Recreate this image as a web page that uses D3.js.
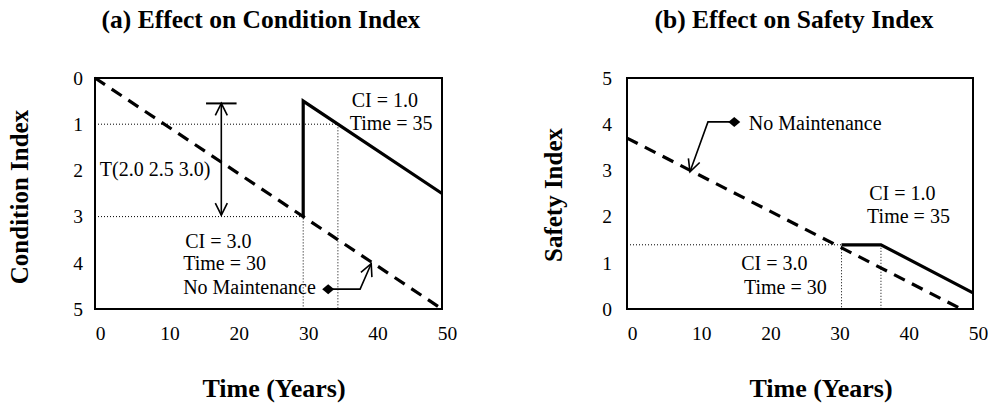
<!DOCTYPE html>
<html>
<head>
<meta charset="utf-8">
<script src="https://cdn.jsdelivr.net/npm/d3@7"></script>
<style>
  body { margin: 0; background: #fff; }
  text { font-family: "Liberation Serif", "Times New Roman", serif; fill: #000; }
</style>
</head>
<body>
<div id="viz"></div>
<script>
const width = 988;
const height = 410;

// shared axes
const years = [0, 10, 20, 30, 40, 50];
const indexTicks = [0, 1, 2, 3, 4, 5];

// (a) condition index, [time, CI]
const ciNoMaint = [[0, 0], [50, 5]];
const ciMaint = [[30, 3.0], [30, 0.5], [50, 2.5]];
const ciGuides = [[[0, 1], [35, 1], [35, 5]], [[0, 3], [30, 3], [30, 5]]];
const ciRange = [[18.2, 0.55], [18.2, 2.97]];
const ciRangeCap = [[16.0, 0.55], [20.4, 0.55]];
const ciPointer = [[33.6, 4.57], [38.2, 4.57], [39.8, 4.02]];
const ciNotes = [
  ['CI = 1.0', 37.0, 0.63], ['Time = 35', 36.7, 1.13],
  ['T(2.0 2.5 3.0)', 0.7, 2.12],
  ['CI = 3.0', 13.0, 3.68], ['Time = 30', 12.7, 4.16], ['No Maintenance', 12.7, 4.68]
];

// (b) safety index, [time, SI]
const siNoMaint = [[0, 3.7], [48.3, 0]];
const siMaint = [[31, 1.39], [36.7, 1.39], [50, 0.35]];
const siGuides = [[[0, 1.39], [31, 1.39], [31, 0]], [[36.7, 1.39], [36.7, 0]]];
const siPointer = [[15.5, 4.05], [11.7, 4.05], [9.1, 2.97]];
const siNotes = [
  ['No Maintenance', 17.6, 3.87],
  ['CI = 1.0', 35.0, 2.36], ['Time = 35', 34.7, 1.86],
  ['CI = 3.0', 16.5, 0.84], ['Time = 30', 16.9, 0.32]
];

const svg = d3.select('#viz')
  .append('svg')
  .attr('width', width)
  .attr('height', height);

const defs = svg.append('defs');
defs.append('marker')
  .attr('id', 'arrow')
  .attr('markerUnits', 'userSpaceOnUse')
  .attr('viewBox', '-14 -8 16 16')
  .attr('markerWidth', 16).attr('markerHeight', 16)
  .attr('refX', 0).attr('refY', 0)
  .attr('orient', 'auto-start-reverse')
  .append('path')
  .attr('d', 'M-12,-6L0,0L-12,6')
  .attr('fill', 'none').attr('stroke', '#000').attr('stroke-width', 1.6);
defs.append('marker')
  .attr('id', 'diamond')
  .attr('markerUnits', 'userSpaceOnUse')
  .attr('viewBox', '-7 -7 14 14')
  .attr('markerWidth', 14).attr('markerHeight', 14)
  .attr('refX', 0).attr('refY', 0)
  .append('path')
  .attr('d', 'M-6,0L0,-5L6,0L0,5Z')
  .attr('fill', '#000');

const line = d3.line();

function drawPanel(p) {
  const x = d3.scaleLinear().domain([0, 50]).range([p.left, p.right]);
  const y = d3.scaleLinear().domain(p.yDomain).range([309, 78]);
  const pt = d => [x(d[0]), y(d[1])];
  const g = svg.append('g');

  g.append('text')
    .attr('x', p.titleX).attr('y', 28)
    .attr('text-anchor', 'middle')
    .attr('font-size', 25.5).attr('font-weight', 'bold')
    .text(p.title);

  g.append('text')
    .attr('transform', `translate(${p.yLabelX},${p.yLabelY}) rotate(-90)`)
    .attr('text-anchor', 'middle')
    .attr('font-size', 25).attr('font-weight', 'bold')
    .text(p.yLabel);

  g.append('text')
    .attr('x', p.xLabelX).attr('y', 397)
    .attr('text-anchor', 'middle')
    .attr('font-size', 26).attr('font-weight', 'bold')
    .text('Time (Years)');

  const xAxis = g.append('g')
    .attr('transform', 'translate(0,309)')
    .call(d3.axisBottom(x).tickValues(years).tickSize(0).tickPadding(17).tickFormat(d3.format('d')));
  xAxis.select('.domain').remove();
  xAxis.selectAll('text').attr('dx', 5);

  const yAxis = g.append('g')
    .attr('transform', `translate(${p.left},0)`)
    .call(d3.axisLeft(y).tickValues(indexTicks).tickSize(0).tickPadding(p.tickPad).tickFormat(d3.format('d')));
  yAxis.select('.domain').remove();

  g.selectAll('.tick text')
    .attr('font-family', '"Liberation Serif", "Times New Roman", serif')
    .attr('font-size', 19.5)
    .attr('fill', '#000');

  g.selectAll('.guide')
    .data(p.guides)
    .join('path')
    .attr('class', 'guide')
    .attr('d', d => line(d.map(pt)))
    .attr('fill', 'none').attr('stroke', '#000')
    .attr('stroke-width', 1).attr('stroke-dasharray', '1,2');

  g.append('path')
    .attr('d', line(p.noMaint.map(pt)))
    .attr('fill', 'none').attr('stroke', '#000')
    .attr('stroke-width', 3.2).attr('stroke-dasharray', '12,8');

  g.append('path')
    .attr('d', line(p.maint.map(pt)))
    .attr('fill', 'none').attr('stroke', '#000')
    .attr('stroke-width', 3.2).attr('stroke-linejoin', 'miter');

  g.append('rect')
    .attr('x', p.left).attr('y', 78)
    .attr('width', p.right - p.left).attr('height', 231)
    .attr('fill', 'none').attr('stroke', '#000').attr('stroke-width', 2);

  g.append('path')
    .attr('d', line(p.pointer.map(pt)))
    .attr('fill', 'none').attr('stroke', '#000').attr('stroke-width', 1.6)
    .attr('marker-start', 'url(#diamond)')
    .attr('marker-end', 'url(#arrow)');

  if (p.range) {
    g.append('path')
      .attr('d', line(p.range.map(pt)))
      .attr('fill', 'none').attr('stroke', '#000').attr('stroke-width', 1.6)
      .attr('marker-start', 'url(#arrow)')
      .attr('marker-end', 'url(#arrow)');
    g.append('path')
      .attr('d', line(p.rangeCap.map(pt)))
      .attr('stroke', '#000').attr('stroke-width', 2);
  }

  g.selectAll('.note')
    .data(p.notes)
    .join('text')
    .attr('class', 'note')
    .attr('x', d => x(d[1])).attr('y', d => y(d[2]))
    .attr('font-size', 20)
    .text(d => d[0]);
}

drawPanel({
  left: 95, right: 442, yDomain: [5, 0], tickPad: 12,
  title: '(a) Effect on Condition Index', titleX: 261,
  yLabel: 'Condition Index', yLabelX: 28, yLabelY: 197, xLabelX: 274,
  noMaint: ciNoMaint, maint: ciMaint, guides: ciGuides,
  range: ciRange, rangeCap: ciRangeCap, pointer: ciPointer, notes: ciNotes
});

drawPanel({
  left: 627, right: 973, yDomain: [0, 5], tickPad: 15,
  title: '(b) Effect on Safety Index', titleX: 794,
  yLabel: 'Safety Index', yLabelX: 562, yLabelY: 195, xLabelX: 821,
  noMaint: siNoMaint, maint: siMaint, guides: siGuides,
  pointer: siPointer, notes: siNotes
});
</script>
</body>
</html>
